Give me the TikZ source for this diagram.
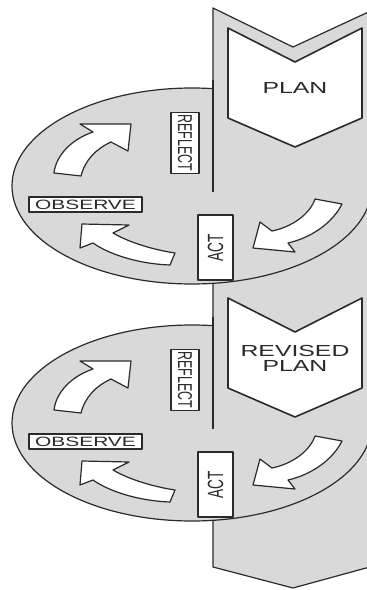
\documentclass[tikz,border=0pt]{standalone}
\usepackage{fontspec}
\setmainfont{Liberation Sans}
\newfontfamily\widefont[FakeStretch=1.55]{Liberation Sans}
\newfontfamily\tallfont[FakeStretch=0.62]{Liberation Sans}
\definecolor{ringgray}{HTML}{D9D9D9}
\definecolor{inkgray}{HTML}{2A2A2A}

\begin{document}
\begin{tikzpicture}[x=1pt, y=-1pt, line width=1.2pt, line join=round,
    ring/.style={fill=ringgray, draw=inkgray},
    tag/.style={draw=inkgray, fill=white, inner sep=0pt, text=inkgray},
    bendarrow/.style={draw=inkgray, fill=white},
    planbox/.style={draw=inkgray, fill=white, line width=1.6pt}]
  \useasboundingbox (0,0) rectangle (367,590);
  \clip (0,0) rectangle (367,590);

  % spine
  \fill[ringgray] (213,8) -- (293,47) -- (377,8) -- (377,565) -- (293,588) -- (213,567) -- cycle;
  \draw[inkgray] (377,8) -- (293,47) -- (213,8) -- (213,567) -- (293,588) -- (377,565);

  \foreach \dy/\n in {0/1, 237/2} {
    \begin{scope}[shift={(0,\dy)}]
      \draw[ring] (192,186) ellipse [x radius=180, y radius=98];
      % spine passes over the upper half of the ring
      \fill[ringgray] (213,80) rectangle (377,192);
      \draw[inkgray] (213,80) -- (213,192);

      \draw[bendarrow] (54,173) .. controls (56,155) and (72,139) .. (93,132) -- (80,124)
        -- (131,124) -- (128,151) -- (111,142) .. controls (96,149) and (85,160) .. (81,176) -- cycle;
      \draw[bendarrow] (175,253) .. controls (155,250) and (130,243) .. (113,233) -- (129,225)
        -- (82,224) -- (80,248) -- (93,243) .. controls (110,255) and (140,264) .. (170,265) -- cycle;
      \draw[bendarrow] (315,199) .. controls (310,214) and (292,227) .. (272,231) -- (260,222)
        -- (253,248) -- (295,252) -- (288,243) .. controls (310,238) and (332,224) .. (342,204) -- cycle;

      \node[tag, font=\tallfont\fontsize{20}{20}\selectfont, rotate=-90, minimum width=61, minimum height=28] (reflect\n) at (185,143) {REFLECT};
      \node[tag, font=\tallfont\fontsize{22}{22}\selectfont, rotate=90, minimum width=65, minimum height=35] (act\n) at (215.5,247.5) {ACT};
      \node[tag, font=\widefont\fontsize{13.5}{13.5}\selectfont, minimum width=113, minimum height=15] (observe\n) at (85.5,204.5) {OBSERVE};
    \end{scope}
  }

  \foreach \t in {28, 298}
    \draw[planbox] (228,\t) -- (295,\t+34) -- (362,\t) -- (362,\t+90) -- (295,\t+119) -- (228,\t+90) -- cycle;

  \node[text=inkgray, font=\widefont\fontsize{16}{16}\selectfont] (plan) at (295,88) {PLAN};
  \node[text=inkgray, font=\widefont\fontsize{16}{15}\selectfont, align=center] (revised) at (295,358) {REVISED\\PLAN};
\end{tikzpicture}
\end{document}
